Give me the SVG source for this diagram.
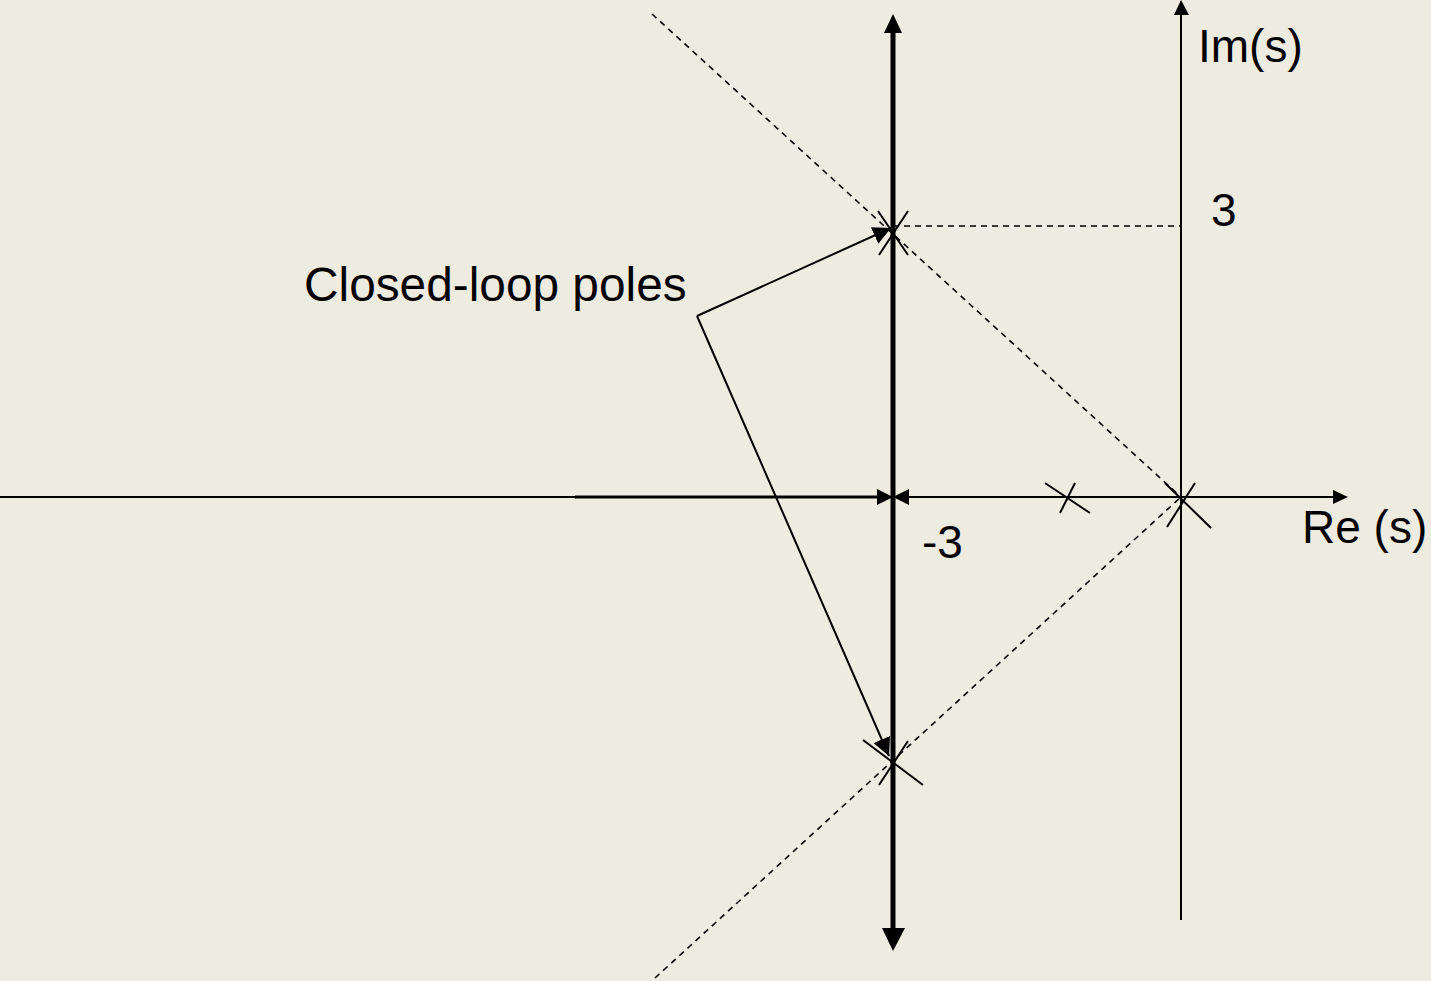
<svg xmlns="http://www.w3.org/2000/svg" width="1431" height="981" viewBox="0 0 1431 981">
<defs>
<style>
.bg{fill:#EEECE1}
.ax{stroke:#000;stroke-width:2;fill:none}
.thick{stroke:#000;stroke-width:5;fill:none}
.dash{stroke:#000;stroke-width:1.6;stroke-dasharray:6,5;fill:none}
.x{stroke:#000;stroke-width:2;fill:none}
.lead{stroke:#000;stroke-width:2;fill:none}
.t{font-family:"Liberation Sans",Arial,sans-serif;font-size:46px;fill:#000}
</style>
<marker id="ah2" viewBox="0 0 10 10" refX="10" refY="5" markerWidth="18" markerHeight="18" markerUnits="userSpaceOnUse" orient="auto">
<path d="M0,0 L10,5 L0,10 Z" fill="#000"/>
</marker>
</defs>
<rect class="bg" x="0" y="0" width="1431" height="981"/>
<g id="connectors">
<line class="dash" x1="652" y1="14" x2="1181" y2="497"/>
<line class="dash" x1="655" y1="978" x2="1181" y2="497"/>
<line class="dash" x1="893" y1="226" x2="1181" y2="226"/>
<line class="ax" x1="0" y1="497" x2="1335" y2="497"/>
<line x1="575" y1="497" x2="880" y2="497" stroke="#000" stroke-width="3"/>
<polygon points="1348,497 1333,490 1333,504" fill="#000"/>
<line class="ax" x1="1181" y1="12" x2="1181" y2="920"/>
<polygon points="1181,0 1174,15 1189,15" fill="#000"/>
<line class="thick" x1="893" y1="30" x2="893" y2="930"/>
<polygon points="893,14 884,33 902,33" fill="#000"/>
<polygon points="893,951 882,928 905,928" fill="#000"/>
<polygon points="893,497 877,489 877,505" fill="#000"/>
<polygon points="893,497 909,489 909,505" fill="#000"/>
<line class="lead" x1="697" y1="316" x2="891" y2="228" marker-end="url(#ah2)"/>
<line class="lead" x1="697" y1="316" x2="889" y2="756" marker-end="url(#ah2)"/>
</g>
<g id="pole-top">
<line class="x" x1="878" y1="211" x2="908" y2="255"/>
<line class="x" x1="908" y1="211" x2="879" y2="255"/>
</g>
<g id="pole-bottom">
<line class="x" x1="863" y1="740" x2="923" y2="785"/>
<line class="x" x1="908" y1="741" x2="879" y2="785"/>
</g>
<g id="pole-real">
<line class="x" x1="1045" y1="483" x2="1090" y2="513"/>
<line class="x" x1="1075" y1="483" x2="1060" y2="513"/>
</g>
<g id="pole-origin">
<line class="x" x1="1165" y1="483" x2="1211" y2="528"/>
<line class="x" x1="1195" y1="483" x2="1167" y2="527"/>
</g>
<g id="labels">
<text class="t" x="1198" y="62">Im(s)</text>
<text class="t" x="1211" y="226">3</text>
<text class="t" x="922" y="558">-3</text>
<text class="t" x="1302" y="543">Re (s)</text>
<text class="t" x="304" y="301" style="font-size:47.8px">Closed-loop poles</text>
</g>
</svg>
